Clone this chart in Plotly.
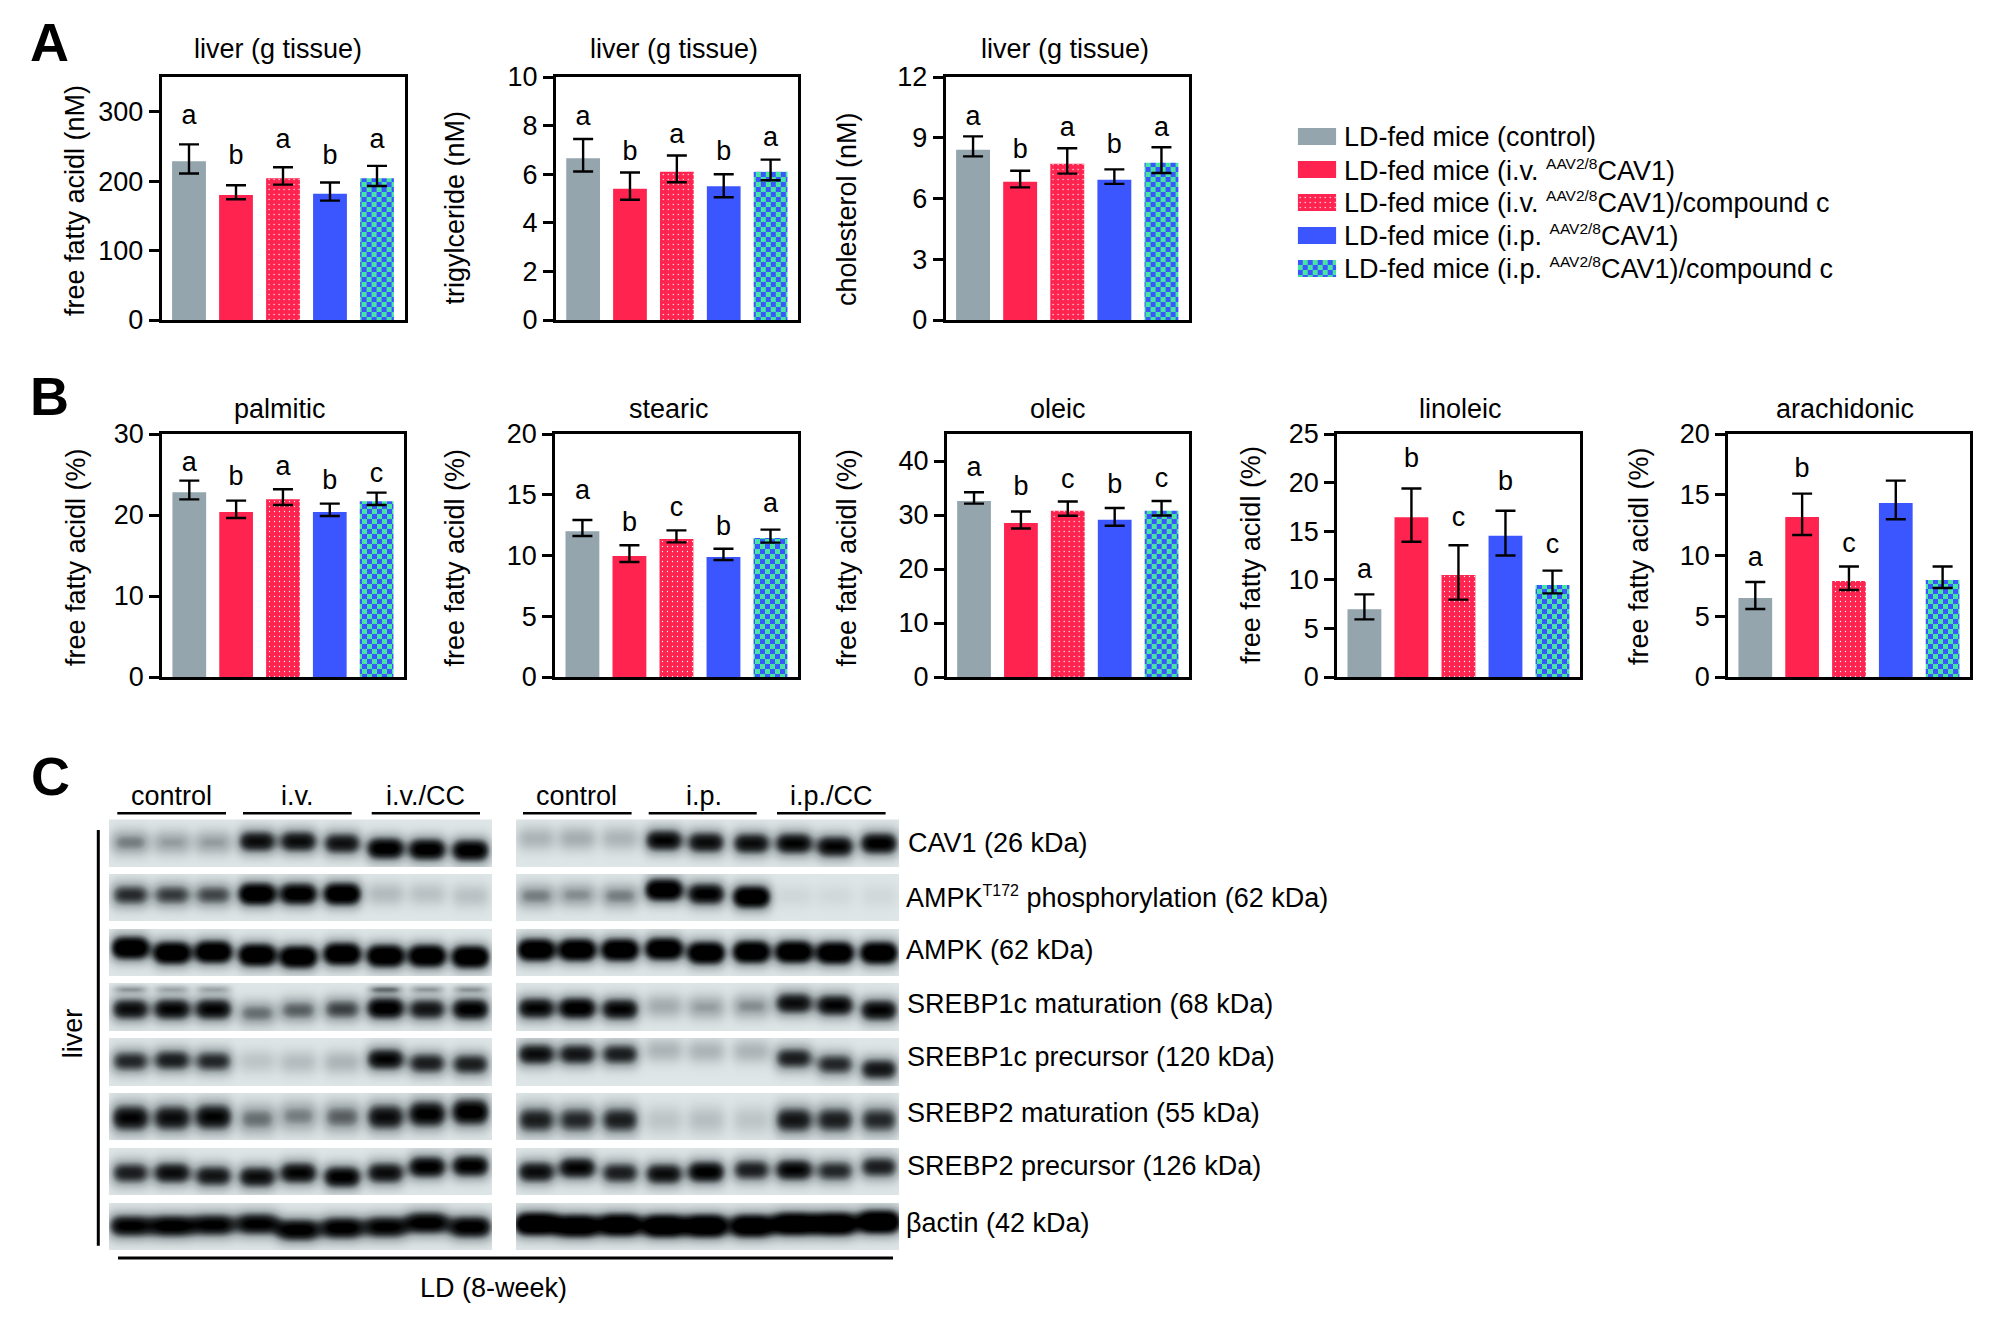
import numpy as np
import plotly.graph_objects as go

W, H = 2008, 1338
FONT = "Liberation Sans"
FS = 27

# ---------- data ----------
# each panel: bar value, upper error end, lower error end, significance letter, letter height
fa_vals = [228.6, 180, 204, 182, 204]
fa_hi = [253, 194, 220, 198, 222]
fa_lo = [211, 174, 195, 172, 193]
fa_let = ["a", "b", "a", "b", "a"]
fa_ley = [292, 234, 257, 235, 257]

tg_vals = [6.66, 5.4, 6.1, 5.5, 6.1]
tg_hi = [7.45, 6.07, 6.77, 6.0, 6.6]
tg_lo = [6.11, 4.95, 5.67, 5.05, 5.75]
tg_let = ["a", "b", "a", "b", "a"]
tg_ley = [8.3, 6.87, 7.58, 6.86, 7.45]

ch_vals = [8.41, 6.83, 7.72, 6.93, 7.77]
ch_hi = [9.07, 7.37, 8.48, 7.44, 8.53]
ch_lo = [8.08, 6.55, 7.23, 6.72, 7.26]
ch_let = ["a", "b", "a", "b", "a"]
ch_ley = [9.98, 8.33, 9.44, 8.6, 9.44]

pa_vals = [22.8, 20.37, 21.93, 20.37, 21.7]
pa_hi = [24.24, 21.77, 23.17, 21.4, 22.76]
pa_lo = [21.93, 19.63, 21.23, 19.88, 21.23]
pa_let = ["a", "b", "a", "b", "c"]
pa_ley = [26.25, 24.5, 25.76, 24.1, 24.9]

st_vals = [12.0, 9.96, 11.36, 9.88, 11.44]
st_hi = [12.92, 10.84, 12.07, 10.56, 12.13]
st_lo = [11.6, 9.47, 11.08, 9.63, 11.06]
st_let = ["a", "b", "c", "b", "a"]
st_ley = [15.2, 12.57, 13.83, 12.24, 14.1]

ol_vals = [32.6, 28.5, 30.8, 29.1, 30.8]
ol_hi = [34.2, 30.65, 32.5, 31.3, 32.6]
ol_lo = [32.1, 27.5, 29.85, 28.0, 29.9]
ol_let = ["a", "b", "c", "b", "c"]
ol_ley = [38.5, 35.0, 36.2, 35.4, 36.5]

li_vals = [6.96, 16.43, 10.5, 14.54, 9.47]
li_hi = [8.5, 19.4, 13.55, 17.1, 10.94]
li_lo = [5.93, 13.92, 7.96, 12.5, 8.6]
li_let = ["a", "b", "c", "b", "c"]
li_ley = [10.84, 22.3, 16.2, 19.9, 13.5]

ar_vals = [6.5, 13.17, 7.9, 14.32, 7.98]
ar_hi = [7.82, 15.09, 9.1, 16.16, 9.1]
ar_lo = [5.6, 11.69, 7.16, 12.98, 7.33]
ar_let = ["a", "b", "c"]
ar_ley = [9.7, 17.0, 10.86]

groups = [
    "LD-fed mice (control)",
    "LD-fed mice (i.v. <sup><span style='font-size:15.5px'>AAV2/8</span></sup>CAV1)",
    "LD-fed mice (i.v. <sup><span style='font-size:15.5px'>AAV2/8</span></sup>CAV1)/compound c",
    "LD-fed mice (i.p. <sup><span style='font-size:15.5px'>AAV2/8</span></sup>CAV1)",
    "LD-fed mice (i.p. <sup><span style='font-size:15.5px'>AAV2/8</span></sup>CAV1)/compound c",
]

# western blot: relative band intensity per lane, one row per protein
proteins = [
    "CAV1 (26 kDa)",
    "AMPK<sup><span style='font-size:16px'>T172</span></sup> phosphorylation (62 kDa)",
    "AMPK (62 kDa)",
    "SREBP1c maturation (68 kDa)",
    "SREBP1c precursor (120 kDa)",
    "SREBP2 maturation (55 kDa)",
    "SREBP2 precursor (126 kDa)",
    "βactin (42 kDa)",
]
iv_intensity = [
    [.50, .40, .40, .95, .95, .92, 1.1, 1.1, 1.1],
    [.78, .72, .68, 1.25, 1.15, 1.25, .26, .22, .22],
    [1.3, 1.3, 1.3, 1.3, 1.3, 1.3, 1.3, 1.3, 1.3],
    [.95, 1.0, 1.0, .55, .60, .70, 1.1, .90, 1.05],
    [.80, .85, .80, .20, .25, .30, 1.0, .85, .85],
    [1.0, .95, 1.0, .55, .50, .60, .95, 1.05, 1.1],
    [.85, .95, .90, .95, 1.0, 1.05, .95, 1.05, 1.05],
    [1.05, 1.1, 1.05, 1.05, 1.1, 1.1, 1.05, 1.1, 1.1],
]
ip_intensity = [
    [.30, .34, .30, 1.0, .95, .95, 1.0, 1.0, 1.05],
    [.50, .45, .50, 1.25, 1.05, 1.25, .09, .08, .08],
    [1.3, 1.3, 1.3, 1.3, 1.3, 1.3, 1.3, 1.3, 1.3],
    [1.0, 1.1, 1.0, .35, .40, .45, .95, 1.0, 1.0],
    [.95, .90, .85, .30, .30, .30, .85, .80, .90],
    [.85, .80, .85, .20, .24, .20, .90, .85, .80],
    [.95, 1.0, .85, .95, 1.05, .85, 1.0, .80, .85],
    [1.4, 1.35, 1.35, 1.4, 1.4, 1.35, 1.4, 1.4, 1.45],
]
# upper faint band of the SREBP1c maturation row
iv_upper = [.35, .30, .30, 0, 0, 0, .45, .35, .35]

# ---------- layout tables ----------
panel_tables = [
    # vals, hi, lo, letters, letter y, ymax, ticks, frame l,r,t,b, title, cx, cy, ylabel, lx, ly
    (fa_vals, fa_hi, fa_lo, fa_let, fa_ley, 350, [0, 100, 200, 300], (161.6, 404.5, 77, 320), "liver (g tissue)", 278, 49, "free fatty acidl (nM)", 75, 201),
    (tg_vals, tg_hi, tg_lo, tg_let, tg_ley, 10, [0, 2, 4, 6, 8, 10], (555.8, 798, 77, 320), "liver (g tissue)", 673.6, 49, "trigylceride (nM)", 454.6, 208),
    (ch_vals, ch_hi, ch_lo, ch_let, ch_ley, 12, [0, 3, 6, 9, 12], (945.6, 1189, 77, 320), "liver (g tissue)", 1064.8, 49, "cholesterol (nM)", 847, 209),
    (pa_vals, pa_hi, pa_lo, pa_let, pa_ley, 30, [0, 10, 20, 30], (162, 404, 434, 677), "palmitic", 279.8, 409, "free fatty acidl (%)", 76, 557),
    (st_vals, st_hi, st_lo, st_let, st_ley, 20, [0, 5, 10, 15, 20], (555, 798, 434, 677), "stearic", 669, 409, "free fatty acidl (%)", 454.5, 558),
    (ol_vals, ol_hi, ol_lo, ol_let, ol_ley, 45, [0, 10, 20, 30, 40], (946.7, 1189, 434, 677), "oleic", 1058, 409, "free fatty acidl (%)", 846.5, 558),
    (li_vals, li_hi, li_lo, li_let, li_ley, 25, [0, 5, 10, 15, 20, 25], (1337, 1580, 434, 677), "linoleic", 1460, 409, "free fatty acidl (%)", 1250.7, 555),
    (ar_vals, ar_hi, ar_lo, ar_let, ar_ley, 20, [0, 5, 10, 15, 20], (1728, 1970, 434, 677), "arachidonic", 1845, 409, "free fatty acidl (%)", 1639, 556),
]

GRAY, RED, BLUE, TEAL = "#94a5ae", "#ff2450", "#3b55ff", "#46e6a2"
bar_colors = [GRAY, RED, RED, BLUE, TEAL]
pat_shapes = ["", "", ".", "", "x"]
pat_fg = [GRAY, RED, TEAL, BLUE, BLUE]
pat_size = [5, 5, 5, 5, 7]
pat_sol = [.1, .1, .05, .1, .42]

fig = go.Figure()
annots, shapes = [], []
layout = {}


def px(x):
    return x / W


def py(y):
    return 1 - y / H


def text(x, y, s, size=FS, rot=0, anchor="center", bold=False):
    annots.append(dict(
        x=px(x), y=py(y), xref="paper", yref="paper", text=("<b>%s</b>" % s) if bold else s,
        showarrow=False, textangle=rot, xanchor=anchor, yanchor="middle",
        font=dict(family=FONT, size=size, color="black"),
    ))


def line(x0, y0, x1, y1, w=3):
    shapes.append(dict(type="line", xref="paper", yref="paper",
                       x0=px(x0), y0=py(y0), x1=px(x1), y1=py(y1),
                       line=dict(color="black", width=w)))


pattern = dict(shape=pat_shapes, fgcolor=pat_fg, size=pat_size, fgopacity=1,
               solidity=pat_sol, fillmode="overlay")

ax = 0
for vals, hi, lo, lets, ley, ymax, ticks, (l, r, t, b), ttl, cx, cy, ylab, lx, ly in panel_tables:
    ax += 1
    sfx = "" if ax == 1 else str(ax)
    xs = list(range(5))
    up = [h - v for h, v in zip(hi, vals)]
    dn = [v - m for v, m in zip(vals, lo)]
    fig.add_trace(go.Bar(
        x=xs, y=vals, width=0.72, xaxis="x" + sfx, yaxis="y" + sfx, showlegend=False,
        marker=dict(color=bar_colors, pattern=pattern, line=dict(width=0)),
        error_y=dict(type="data", symmetric=False, array=up, arrayminus=dn,
                     color="black", thickness=2.4, width=10),
    ))
    fig.add_trace(go.Scatter(
        x=xs[:len(lets)], y=ley, text=lets, mode="text", xaxis="x" + sfx, yaxis="y" + sfx, showlegend=False,
        textposition="middle center", textfont=dict(family=FONT, size=FS, color="black"),
    ))
    layout["xaxis" + sfx] = dict(
        domain=[px(l), px(r)], range=[-0.583, 4.585], anchor="y" + sfx, showticklabels=False,
        ticks="", showgrid=False, zeroline=False, showline=True, linecolor="black",
        linewidth=2.6, mirror=True, automargin=False,
    )
    layout["yaxis" + sfx] = dict(
        domain=[py(b), py(t)], range=[0, ymax], anchor="x" + sfx, tickvals=ticks,
        ticks="outside", ticklen=10, tickwidth=2.6, tickcolor="black", showgrid=False,
        zeroline=False, showline=True, linecolor="black", linewidth=2.6, mirror=True,
        tickfont=dict(family=FONT, size=FS, color="black"), automargin=False,
    )
    text(cx, cy, ttl)
    text(lx, ly, ylab, rot=-90)

# legend swatches: a small horizontal bar axis
ax += 1
sfx = str(ax)
leg_y = [0, 1, 2, 3, 4]
fig.add_trace(go.Bar(
    x=[1] * 5, y=leg_y, orientation="h", width=0.52, xaxis="x" + sfx, yaxis="y" + sfx,
    showlegend=False, marker=dict(color=bar_colors, pattern=pattern, line=dict(width=0)),
))
layout["xaxis" + sfx] = dict(domain=[px(1297.7), px(1336.3)], range=[0, 1], visible=False, anchor="y" + sfx, automargin=False)
layout["yaxis" + sfx] = dict(domain=[py(285), py(120)], range=[4.5, -0.5], visible=False, anchor="x" + sfx, automargin=False)
for g, yc in zip(groups, [136.7, 170, 202.7, 235.3, 268.3]):
    text(1342, yc, g, anchor="left")

# ---------- panel C: blots ----------
row_tops = [819.5, 874, 929, 983.3, 1038.3, 1093, 1148, 1203]
ROW_H = 47.5
iv_lanes = [130, 171.7, 213, 256.7, 298, 341.7, 385, 426.7, 470]
ip_lanes = [535.7, 576.8, 619.6, 663.5, 705.7, 751, 793.5, 834.6, 878.5]
iv_yc = [
    [23, 23, 23, 22, 22, 24, 29, 30, 31],
    [21, 21, 21, 20, 20, 20, 20, 20, 22],
    [19, 24, 23, 26, 28, 25, 27, 27, 28],
    [26, 26, 26, 30, 27, 26, 25, 26, 26],
    [23, 22, 23, 23, 24, 24, 21, 25, 26],
    [25, 25, 24, 26, 23, 24, 24, 21, 19],
    [25, 25, 28, 29, 25, 29, 25, 19, 18],
    [23, 23, 22, 21, 27, 25, 24, 20, 24],
]
ip_yc = [
    [19, 19, 19, 21, 23, 24, 24, 27, 24],
    [22, 21, 22, 16, 20, 23, 22, 22, 22],
    [21, 21, 21, 20, 24, 23, 23, 24, 24],
    [25, 25, 26, 23, 24, 23, 20, 22, 27],
    [16, 16, 16, 12, 13, 13, 20, 26, 31],
    [27, 27, 27, 27, 27, 27, 27, 27, 27],
    [24, 20, 25, 26, 24, 22, 22, 23, 19],
    [21, 23, 22, 23, 23, 23, 21, 21, 19],
]


def blot(x0, x1, lanes, intens, yc, upper=None):
    xs = np.arange(x0, x1 + 1.0)
    ys = np.arange(row_tops[0], row_tops[-1] + ROW_H + 1.0)
    X, Y = np.meshgrid(xs, ys)
    z = np.full(X.shape, np.nan)
    for r, top in enumerate(row_tops):
        mask = (Y >= top) & (Y < top + ROW_H)
        v = np.zeros(X.shape)
        for c, cen in enumerate(lanes):
            hw = 19.5 if r != 7 else 22
            sy = 12.5 if r != 5 else 15
            v += intens[r][c] * np.exp(-(np.abs(X - cen) / hw) ** 4) * \
                np.exp(-(np.abs(Y - top - yc[r][c]) / sy) ** 2)
            if upper is not None and r == 3:
                v += upper[c] * np.exp(-(np.abs(X - cen) / 17) ** 4) * \
                    np.exp(-(np.abs(Y - top - 6) / 4) ** 2)
        z[mask] = np.clip(v, 0, 1)[mask]
    return xs, ys, z


bg = "#dfe6e8"
for x0, x1, lanes, intens, yc, upper in [
    (109, 492, iv_lanes, iv_intensity, iv_yc, iv_upper),
    (516, 899, ip_lanes, ip_intensity, ip_yc, None),
]:
    ax += 1
    sfx = str(ax)
    xs, ys, z = blot(x0, x1, lanes, intens, yc, upper)
    fig.add_trace(go.Heatmap(
        x=xs, y=ys, z=z, xaxis="x" + sfx, yaxis="y" + sfx, showscale=False, zmin=0, zmax=1,
        hoverinfo="skip", colorscale=[[0, bg], [0.35, "#a3acaf"], [0.75, "#2b2f31"], [1, "#000000"]],
    ))
    layout["xaxis" + sfx] = dict(domain=[px(x0), px(x1)], range=[x0, x1], visible=False, anchor="y" + sfx, automargin=False)
    layout["yaxis" + sfx] = dict(domain=[py(row_tops[-1] + ROW_H), py(row_tops[0])],
                                 range=[row_tops[-1] + ROW_H, row_tops[0]], visible=False, anchor="x" + sfx, automargin=False)

for s, x in [("control", 171.7), ("i.v.", 297.7), ("i.v./CC", 425.7),
             ("control", 576.8), ("i.p.", 704), ("i.p./CC", 831)]:
    text(x, 796, s)
for a, c in [(117.3, 226), (243, 351.7), (371.7, 480), (523, 631.6), (648.7, 756.7), (777, 885.6)]:
    line(a, 813.3, c, 813.3, 2.6)
line(98.3, 830, 98.3, 1245.7, 3)
line(118, 1258, 893, 1258, 3)
text(73.3, 1033, "liver", rot=-90)
text(493, 1288, "LD (8-week)")
for s, x, y in zip(proteins, [906, 904, 904, 905, 905, 905, 905, 904],
                   [842.7, 897, 950, 1004, 1056.7, 1113, 1166, 1223]):
    text(x, y, s, anchor="left")

text(49, 42, "A", size=54, bold=True)
text(49, 396, "B", size=54, bold=True)
text(50, 776, "C", size=54, bold=True)

fig.update_layout(
    width=W, height=H, margin=dict(l=0, r=0, t=0, b=0), autosize=False,
    paper_bgcolor="white", plot_bgcolor="rgba(0,0,0,0)", barmode="overlay",
    annotations=annots, shapes=shapes, showlegend=False,
    font=dict(family=FONT, color="black"), **layout,
)
# plotly has no checkerboard pattern: turn its "x" tile (the only tile drawn
# with a path here) into an axis-aligned check
checker_js = """
document.body.style.margin='0';
document.querySelectorAll('pattern').forEach(function(p){
  var paths=p.querySelectorAll('path');
  if(paths.length){
    p.setAttribute('width','10');p.setAttribute('height','10');
    p.querySelectorAll('rect').forEach(function(r){
      r.setAttribute('width','10');r.setAttribute('height','10');});
    paths.forEach(function(q){
      q.setAttribute('d','M0,0H5V5H0ZM5,5H10V10H5Z');
      q.setAttribute('style','fill:#3b55ff;stroke:none;opacity:1');});
  }
});
"""
fig.write_html("out.html", config={"displayModeBar": False}, post_script=checker_js)
